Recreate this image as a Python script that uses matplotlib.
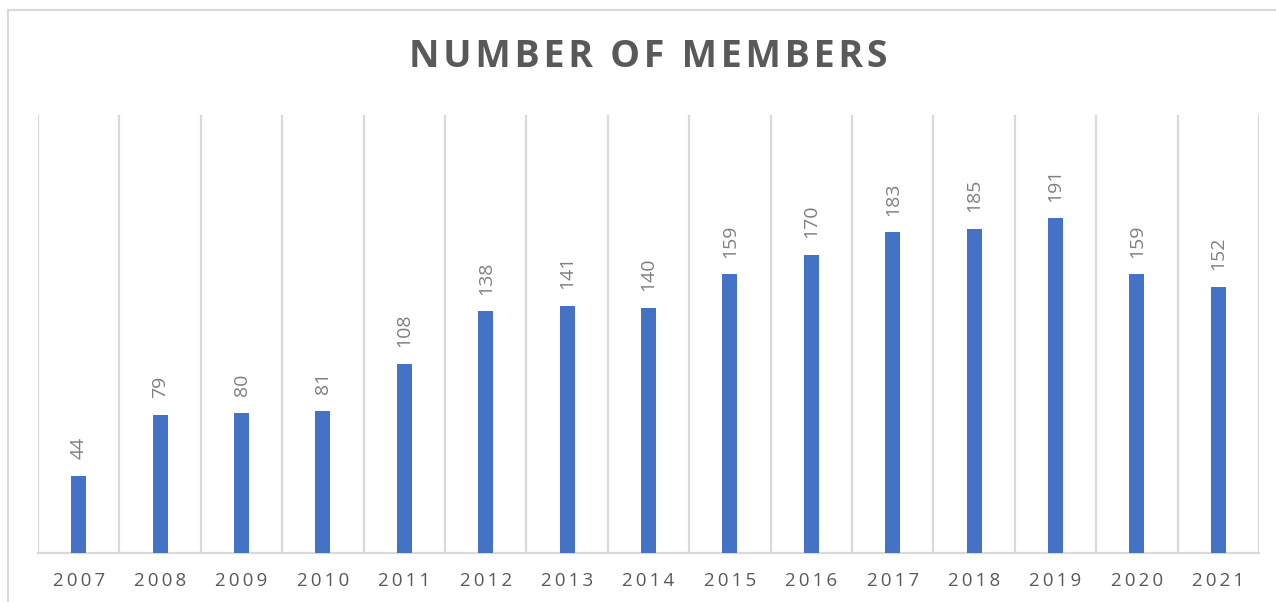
import matplotlib.pyplot as plt
from matplotlib.patches import Rectangle
import numpy as np

plt.rcParams['font.family'] = ['Open Sans', 'DejaVu Sans']

years = ['2007', '2008', '2009', '2010', '2011', '2012', '2013', '2014',
         '2015', '2016', '2017', '2018', '2019', '2020', '2021']
members = [44, 79, 80, 81, 108, 138, 141, 140, 159, 170, 183, 185, 191, 159, 152]
title = 'NUMBER OF MEMBERS'

W, H = 1276, 602
fig = plt.figure(figsize=(W / 100, H / 100), dpi=100)
ax = fig.add_axes([38 / W, (H - 553) / H, (1259 - 38) / W, (553 - 115) / H])

x = np.arange(len(years))
ax.bar(x, members, width=0.185, color='#4472C4', zorder=3)

# category boundaries as vertical gridlines
for b in np.arange(-0.5, len(years) + 0.5, 1):
    ax.axvline(b, color='#d9d9d9', lw=1.6, zorder=1)

# data labels, rotated
for xi, v in zip(x, members):
    ax.annotate(str(v), (xi, v), xytext=(0, 12), textcoords='offset points',
                rotation=90, ha='center', va='bottom', fontsize=14,
                color='#7f7f7f')

ax.set_xlim(-0.5, len(years) - 0.5)
ax.set_ylim(0, 250)
ax.set_yticks([])
ax.set_xticks(x)
ax.set_xticklabels(['\u2009'.join(y) for y in years], fontsize=13.5, color='#595959')
ax.tick_params(axis='x', length=0, pad=14)
for s in ['top', 'left', 'right']:
    ax.spines[s].set_visible(False)
ax.spines['bottom'].set_color('#d9d9d9')
ax.spines['bottom'].set_linewidth(1.6)

fig.text(648 / W, 1 - 57 / H, '\u200a'.join(title),
         ha='center', va='center', fontsize=27, fontweight='bold', color='#595959')

# chart area border
fig.patches.append(Rectangle((8 / W, -0.1), 1.2, 1 - 10 / H + 0.1, transform=fig.transFigure,
                             fill=False, edgecolor='#d9d9d9', lw=1.5))

fig.savefig('out.png', dpi=100)
